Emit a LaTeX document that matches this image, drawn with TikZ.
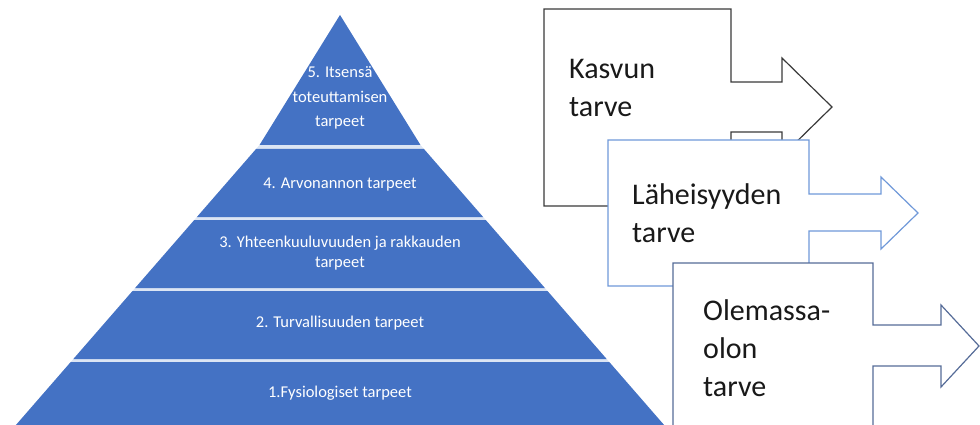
\documentclass[tikz,border=0pt]{standalone}
\usepackage{fontspec}
\setmainfont{Carlito}
\definecolor{pyr}{HTML}{4472C4}
\definecolor{sep}{HTML}{DCE5F4}
\definecolor{edgeA}{HTML}{3A3A3A}
\definecolor{edgeB}{HTML}{7099D9}
\definecolor{edgeC}{HTML}{566C98}
\begin{document}
\begin{tikzpicture}[x=1pt,y=-1pt,
  pyrtext/.style={text=white,font=\fontsize{16.5}{24.5}\selectfont,align=center,anchor=base,inner sep=0pt},
  boxtext/.style={text=black!90,font=\fontsize{30}{38}\selectfont,align=left,anchor=base west,inner sep=0pt},
  arrowbox/.style={fill=white,line width=1.2pt,line join=miter}]
\useasboundingbox (0,0) rectangle (980,425);
\clip (0,0) rectangle (980,425);
% pyramid silhouette (gap colour)
\fill[sep] (340,15) -- (420.45,145) -- (668.4,430) -- (11.6,430) -- (259.55,145) -- cycle;
% layers
\fill[pyr] (340,15) -- (420.45,145) -- (259.55,145) -- cycle;
\fill[pyr] (256.07,149) -- (423.93,149) -- (483.09,217) -- (196.91,217) -- cycle;
\fill[pyr] (194.3,220) -- (485.7,220) -- (544.86,288) -- (135.14,288) -- cycle;
\fill[pyr] (132.53,291) -- (547.47,291) -- (606.63,359) -- (73.37,359) -- cycle;
\fill[pyr] (70.76,362) -- (609.24,362) -- (668.4,430) -- (11.6,430) -- cycle;
% the base anchor of a multi-line node lies on its last line
\node[pyrtext] (l5) at (340,127) {5. Itsensä\\toteuttamisen\\tarpeet};
\node[pyrtext] (l4) at (340,188) {4. Arvonannon tarpeet};
\node[pyrtext,font=\fontsize{16.5}{20}\selectfont] (l3) at (340,267.5) {3. Yhteenkuuluvuuden ja rakkauden\\tarpeet};
\node[pyrtext] (l2) at (340,327) {2. Turvallisuuden tarpeet};
\node[pyrtext] (l1) at (340,397) {1.Fysiologiset tarpeet};
% arrow boxes
\draw[arrowbox,draw=edgeA] (544,9) -- (731,9) -- (731,82) -- (782,82) -- (782,58) -- (832,107) -- (782,156) -- (782,132) -- (731,132) -- (731,206) -- (544,206) -- cycle;
\node[boxtext] (kasvu) at (569,117) {Kasvun\\tarve};
\draw[arrowbox,draw=edgeB] (608,140) -- (809,140) -- (809,194) -- (881,194) -- (881,177) -- (918,213) -- (881,249) -- (881,231) -- (809,231) -- (809,286) -- (608,286) -- cycle;
\node[boxtext] (laheis) at (632,242) {Läheisyyden\\tarve};
\draw[arrowbox,draw=edgeC] (673,263) -- (873,263) -- (873,325) -- (941,325) -- (941,305) -- (979,346) -- (941,387) -- (941,366) -- (873,366) -- (873,440) -- (673,440) -- cycle;
\node[boxtext] (olemassa) at (703,396) {Olemassa-\\olon\\tarve};
\end{tikzpicture}
\end{document}
